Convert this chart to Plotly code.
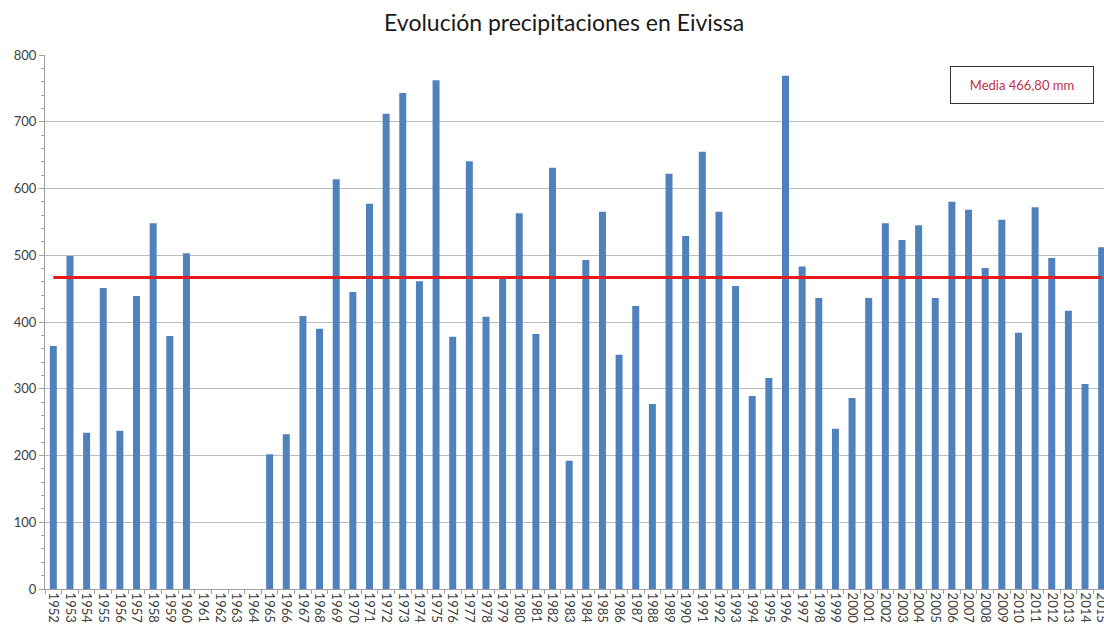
import plotly.graph_objects as go

# ── Datos (mm por año) ─────────────────────────────────────────────────────
ANIOS = [str(a) for a in range(1952, 2016)]

PRECIP = [
    364, 499, 234, 451, 237, 439, 548, 379, 503,      # 1952-1960
    None, None, None, None,                           # 1961-1964 sin datos
    202, 232, 409, 390, 614, 445, 577, 712, 743, 461, # 1965-1974
    762, 378, 641, 408, 467, 563, 382, 631, 192, 493, # 1975-1984
    565, 351, 424, 277, 622, 529, 655, 565, 454, 289, # 1985-1994
    316, 769, 483, 436, 240, 286, 436, 548, 523, 545, # 1995-2004
    436, 580, 568, 481, 553, 384, 572, 496, 417, 307, # 2005-2014
    512,                                              # 2015
]

MEDIA = 466.80

AZUL = "#4F81BD"
ROJO = "#E8191C"
GRIS_TXT = "#404040"
GRIS_GRID = "#BDBDBD"

fig = go.Figure()

fig.add_trace(go.Bar(
    x=ANIOS, y=PRECIP,
    marker=dict(color=AZUL, line=dict(width=0)),
    hovertemplate="%{x}: %{y} mm<extra></extra>",
))

# línea de la media
fig.add_trace(go.Scatter(
    x=ANIOS, y=[MEDIA] * len(ANIOS),
    mode="lines",
    line=dict(color=ROJO, width=3),
    hoverinfo="skip",
))

fig.update_layout(
    width=1104, height=627,
    paper_bgcolor="white", plot_bgcolor="white",
    margin=dict(l=45, r=0, t=55, b=38),
    showlegend=False,
    bargap=0.58,
    font=dict(family="Lato, Open Sans, sans-serif", color=GRIS_TXT),
    title=dict(
        text="Evolución precipitaciones en Eivissa",
        x=0.511, xanchor="center", y=1 - 23 / 627, yanchor="middle",
        yref="container",
        font=dict(size=23, color="#1a1a1a", family="Lato, Open Sans, sans-serif"),
    ),
    xaxis=dict(
        type="category",
        range=[-0.5, 63.14],
        dtick=1,
        tickangle=90,
        tickfont=dict(size=13, color=GRIS_TXT),
        ticks="outside", tickson="boundaries", ticklen=4, tickcolor="#A0A0A0",
        showline=True, linecolor="#A0A0A0", linewidth=1,
        showgrid=False,
        automargin=False,
    ),
    yaxis=dict(
        range=[0, 800],
        dtick=100,
        tickfont=dict(size=13, color=GRIS_TXT),
        ticks="outside", ticklen=5, tickcolor="#A0A0A0",
        minor=dict(dtick=20, ticks="outside", ticklen=3, tickcolor="#A0A0A0", showgrid=False),
        showline=True, linecolor="#A0A0A0", linewidth=1,
        gridcolor=GRIS_GRID, gridwidth=1,
        zeroline=False,
        automargin=False,
    ),
    annotations=[dict(
        text="Media 466,80 mm",
        xref="paper", yref="paper",
        x=(1022 - 45) / 1059, y=(589 - 85) / 534,
        xanchor="center", yanchor="middle",
        showarrow=False,
        font=dict(size=13, color="#C0304A", family="Lato, Open Sans, sans-serif"),
        bordercolor="#333333", borderwidth=1, borderpad=10,
        bgcolor="white",
        width=122,
    )],
)

# quitar el margen por defecto del <body> para que la figura empiece en (0,0)
fig.write_html(
    "out.html",
    config={"displayModeBar": False},
    post_script="document.body.style.margin='0';",
)
